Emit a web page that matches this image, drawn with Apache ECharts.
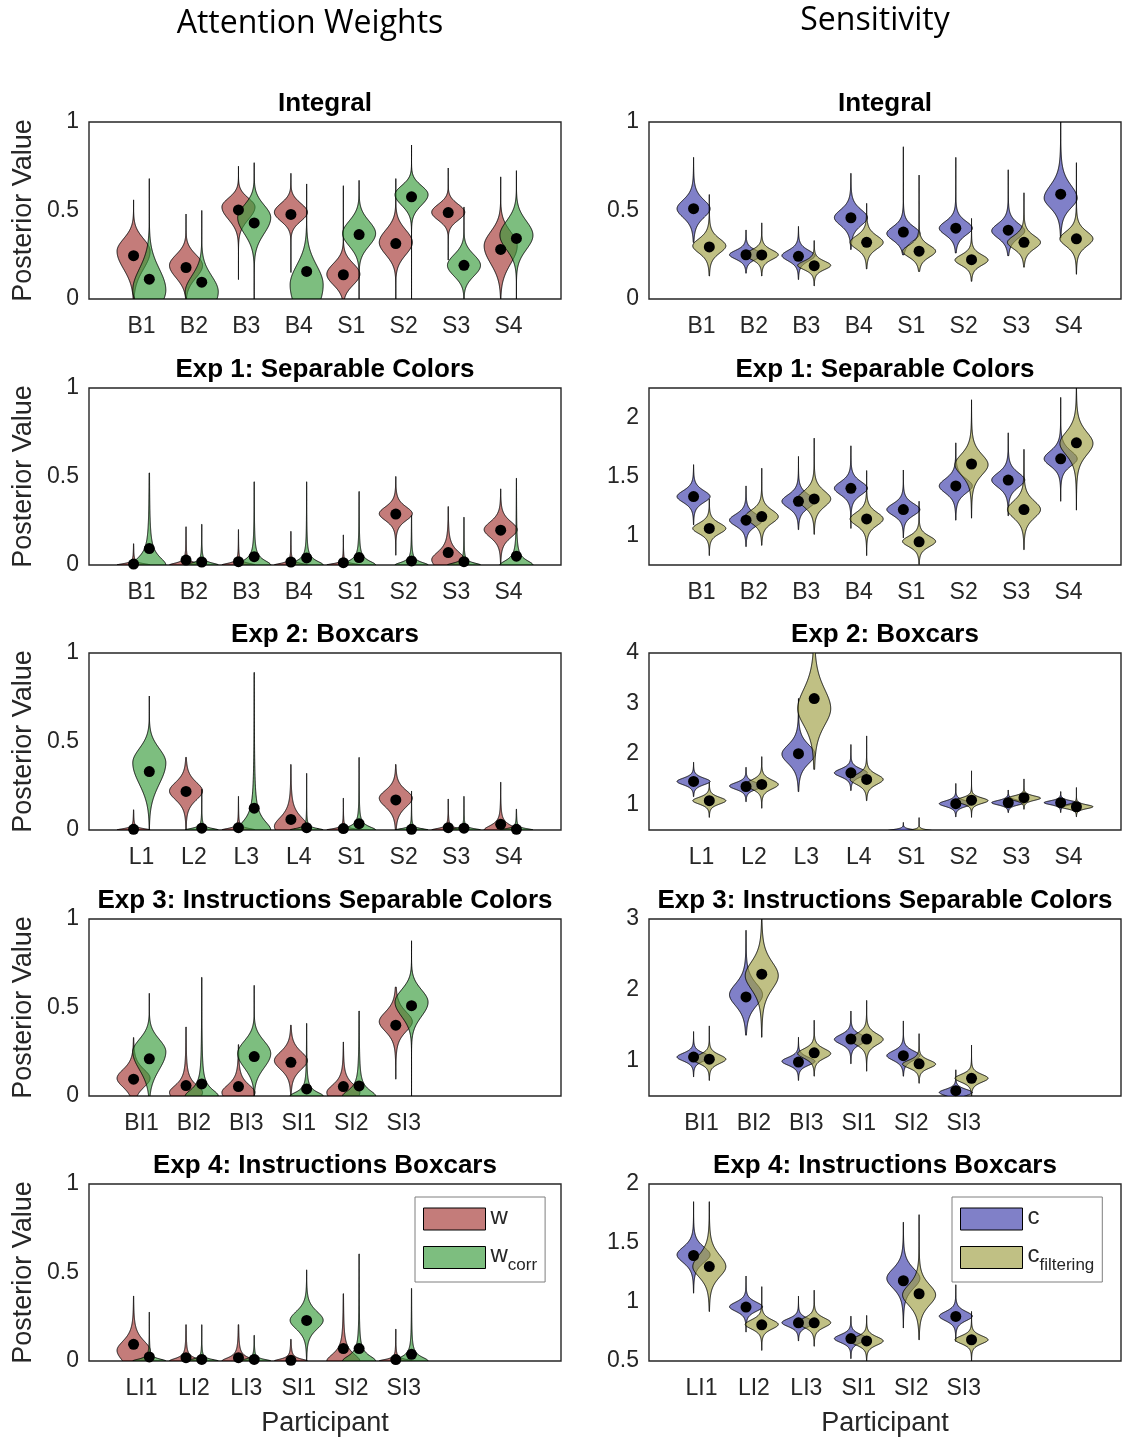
<!DOCTYPE html>
<html><head><meta charset="utf-8">
<script src="https://cdn.jsdelivr.net/npm/echarts@6/dist/echarts.min.js"></script>
<style>html,body{margin:0;padding:0;background:#fff}#c{width:1132px;height:1438px}</style>
</head><body><div id="c"></div>
<script>
// ---------- categories ----------
const catsInt  = ['B1','B2','B3','B4','S1','S2','S3','S4'];
const catsExp1 = ['B1','B2','B3','B4','S1','S2','S3','S4'];
const catsExp2 = ['L1','L2','L3','L4','S1','S2','S3','S4'];
const catsExp3 = ['BI1','BI2','BI3','SI1','SI2','SI3'];
const catsExp4 = ['LI1','LI2','LI3','SI1','SI2','SI3'];

// ---------- tick labels ----------
const ticksW    = [0, 0.5, 1];
const ticksInt  = [0, 0.5, 1];
const ticksExp1 = [1, 1.5, 2];
const ticksExp2 = [1, 2, 3, 4];
const ticksExp3 = [1, 2, 3];
const ticksExp4 = [0.5, 1, 1.5, 2];

// ---------- violin summaries: [dot, mode, sdLow, sdHigh, min, max, tailShape] ----------
const intW = [
 [0.245,0.27,0.10,0.07,0,0.56,0],[0.178,0.19,0.07,0.06,0,0.48,0],[0.503,0.52,0.07,0.05,0.11,0.75,0],[0.478,0.49,0.05,0.05,0.15,0.71,0],
 [0.137,0.14,0.06,0.06,0,0.64,0],[0.313,0.32,0.07,0.07,0,0.68,0],[0.488,0.49,0.045,0.045,0.22,0.74,0],[0.28,0.30,0.10,0.08,0,0.69,0]];
const intWcorr = [
 [0.112,0.05,0.10,0.12,0,0.68,0],[0.095,0.04,0.10,0.09,0,0.50,0],[0.43,0.46,0.09,0.07,0,0.77,0],[0.156,0.08,0.15,0.11,0,0.65,0],
 [0.364,0.37,0.07,0.07,0,0.67,0],[0.577,0.59,0.06,0.05,0,0.87,0],[0.19,0.19,0.06,0.06,0,0.52,0],[0.342,0.36,0.08,0.08,0,0.725,0]];
const intC = [
 [0.51,0.51,0.054,0.054,0.32,0.80,6],[0.25,0.25,0.027,0.027,0.146,0.39,6],[0.241,0.245,0.032,0.032,0.11,0.41,6],[0.459,0.46,0.048,0.048,0.28,0.71,6],
 [0.378,0.37,0.042,0.042,0.25,0.86,6],[0.40,0.40,0.042,0.042,0.26,0.80,6],[0.389,0.385,0.044,0.044,0.245,0.73,6],[0.592,0.57,0.06,0.078,0.345,1.05,6]];
const intCfilt = [
 [0.294,0.30,0.044,0.044,0.13,0.59,6],[0.249,0.25,0.029,0.029,0.13,0.43,6],[0.188,0.19,0.026,0.026,0.074,0.33,6],[0.32,0.32,0.04,0.04,0.17,0.54,6],
 [0.27,0.27,0.036,0.036,0.156,0.70,6],[0.222,0.22,0.032,0.032,0.10,0.455,6],[0.32,0.32,0.04,0.04,0.18,0.60,6],[0.34,0.34,0.045,0.045,0.14,0.77,6]];

const e1W = [
 [0.005,0,0.01,0.01,0,0.12,1],[0.028,0,0.015,0.015,0,0.216,1],[0.019,0,0.013,0.013,0,0.20,1],[0.017,0,0.012,0.012,0,0.19,1],
 [0.013,0,0.01,0.01,0,0.17,1],[0.288,0.29,0.042,0.042,0.055,0.50,6],[0.07,0.03,0.06,0.05,0,0.33,3],[0.197,0.20,0.048,0.048,0,0.43,6]];
const e1Wcorr = [
 [0.093,0,0.06,0.06,0,0.52,1],[0.017,0,0.015,0.015,0,0.23,1],[0.047,0,0.035,0.035,0,0.47,1],[0.04,0,0.03,0.03,0,0.47,1],
 [0.042,0,0.03,0.03,0,0.415,1],[0.023,0,0.02,0.02,0,0.28,1],[0.019,0,0.015,0.015,0,0.27,1],[0.05,0,0.035,0.035,0,0.49,1]];
const e1C = [
 [1.33,1.33,0.054,0.054,1.09,1.60,6],[1.13,1.13,0.054,0.054,0.906,1.42,6],[1.29,1.29,0.06,0.06,1.05,1.67,6],[1.40,1.40,0.06,0.06,1.06,1.76,6],
 [1.22,1.22,0.054,0.054,0.98,1.555,6],[1.42,1.42,0.066,0.066,1.13,1.785,6],[1.47,1.47,0.066,0.066,1.167,1.87,6],[1.65,1.65,0.066,0.072,1.29,2.17,6]];
const e1Cfilt = [
 [1.06,1.06,0.048,0.048,0.83,1.31,6],[1.16,1.16,0.06,0.06,0.917,1.57,6],[1.31,1.31,0.072,0.072,1.01,1.825,6],[1.14,1.14,0.06,0.06,0.83,1.55,6],
 [0.946,0.95,0.048,0.048,0.755,1.29,6],[1.606,1.60,0.095,0.095,1.147,2.15,6],[1.22,1.22,0.078,0.078,0.88,1.73,6],[1.785,1.78,0.105,0.105,1.215,2.3,6]];

const e2W = [
 [0.004,0,0.01,0.01,0,0.114,1],[0.218,0.22,0.054,0.054,0,0.41,6],[0.013,0,0.012,0.012,0,0.19,1],[0.06,0.02,0.06,0.06,0,0.37,3],
 [0.008,0,0.01,0.01,0,0.18,1],[0.17,0.18,0.054,0.048,0,0.37,6],[0.013,0,0.012,0.012,0,0.175,1],[0.032,0,0.03,0.03,0,0.27,2]];
const e2Wcorr = [
 [0.33,0.38,0.12,0.08,0,0.757,0],[0.01,0,0.012,0.012,0,0.23,1],[0.123,0,0.07,0.07,0,0.89,1],[0.013,0,0.012,0.012,0,0.32,1],
 [0.036,0,0.025,0.025,0,0.41,1],[0.004,0,0.01,0.01,0,0.22,1],[0.01,0,0.01,0.01,0,0.19,1],[0.004,0,0.01,0.01,0,0.118,1]];
const e2C = [
 [1.46,1.46,0.072,0.072,1.16,1.84,6],[1.36,1.37,0.072,0.072,1.06,1.74,6],[2.01,2.0,0.2,0.2,1.26,3.1,6],[1.63,1.63,0.084,0.084,1.28,2.19,6],
 [0.3,0.48,0.03,0.03,0.3,0.65,6],[1.02,1.02,0.06,0.06,0.76,1.42,6],[1.04,1.04,0.048,0.048,0.845,1.29,6],[1.04,1.04,0.042,0.042,0.845,1.26,6]];
const e2Cfilt = [
 [1.08,1.08,0.072,0.072,0.75,1.44,6],[1.40,1.40,0.095,0.095,0.93,1.95,6],[3.1,2.9,0.36,0.42,1.7,4.2,6],[1.50,1.50,0.105,0.105,1.08,2.36,6],
 [0.3,0.47,0.03,0.03,0.3,0.745,6],[1.09,1.08,0.06,0.06,0.75,1.67,6],[1.14,1.13,0.048,0.048,0.91,1.51,6],[0.96,0.96,0.042,0.042,0.76,1.34,6]];

const e3W = [
 [0.095,0.10,0.055,0.055,0,0.33,6],[0.059,0.02,0.06,0.05,0,0.39,2],[0.053,0.02,0.06,0.05,0,0.29,3],
 [0.19,0.20,0.054,0.054,0,0.40,6],[0.053,0.02,0.06,0.05,0,0.305,3],[0.40,0.42,0.06,0.06,0.095,0.615,6]];
const e3Wcorr = [
 [0.21,0.25,0.10,0.07,0,0.58,0],[0.068,0,0.05,0.05,0,0.67,1],[0.223,0.24,0.08,0.07,0,0.625,0],
 [0.04,0,0.03,0.03,0,0.41,1],[0.057,0,0.045,0.045,0,0.48,1],[0.51,0.53,0.08,0.07,0,0.877,0]];
const e3C = [
 [1.05,1.05,0.06,0.06,0.77,1.41,6],[1.90,1.93,0.17,0.17,1.36,2.84,6],[0.98,0.99,0.06,0.06,0.72,1.33,6],
 [1.305,1.30,0.072,0.072,0.955,1.70,6],[1.07,1.07,0.072,0.072,0.78,1.56,6],[0.575,0.55,0.048,0.048,0.3,0.87,6]];
const e3Cfilt = [
 [1.02,1.02,0.066,0.066,0.72,1.49,6],[2.22,2.2,0.21,0.21,1.33,3.1,6],[1.11,1.10,0.072,0.072,0.78,1.57,6],
 [1.305,1.30,0.084,0.084,0.85,1.85,6],[0.955,0.95,0.06,0.06,0.68,1.38,6],[0.75,0.75,0.06,0.06,0.4,1.22,6]];

const e4W = [
 [0.094,0.06,0.07,0.06,0,0.367,4],[0.019,0,0.02,0.02,0,0.205,1],[0.019,0,0.025,0.025,0,0.205,1],
 [0.004,0,0.015,0.015,0,0.122,1],[0.07,0,0.05,0.05,0,0.38,1.5],[0.008,0,0.012,0.012,0,0.18,1]];
const e4Wcorr = [
 [0.023,0,0.015,0.015,0,0.276,1],[0.009,0,0.012,0.012,0,0.205,1],[0.009,0,0.012,0.012,0,0.145,1],
 [0.229,0.23,0.054,0.054,0,0.515,6],[0.07,0,0.04,0.04,0,0.605,1],[0.038,0,0.03,0.03,0,0.41,1]];
const e4C = [
 [1.394,1.40,0.072,0.072,1.075,1.85,6],[0.957,0.96,0.042,0.042,0.745,1.22,6],[0.824,0.825,0.036,0.036,0.67,1.05,6],
 [0.69,0.69,0.036,0.036,0.52,0.88,6],[1.18,1.20,0.09,0.09,0.78,1.676,6],[0.878,0.88,0.042,0.042,0.666,1.146,6]];
const e4Cfilt = [
 [1.30,1.30,0.095,0.105,0.92,1.85,6],[0.807,0.81,0.042,0.042,0.59,1.13,6],[0.824,0.825,0.042,0.042,0.625,1.10,6],
 [0.67,0.67,0.038,0.038,0.5,0.886,6],[1.07,1.06,0.095,0.095,0.68,1.74,6],[0.68,0.68,0.036,0.036,0.5,0.92,6]];

// ---------- styling ----------
const FONT = 'Liberation Sans, Arial, sans-serif';
const TXT = '#262626';
const COL = { w:'rgba(165,54,51,0.65)', wcorr:'rgba(55,155,58,0.65)', c:'rgba(60,60,171,0.65)', cfilt:'rgba(158,158,66,0.65)' };
const HALFW = 0.315, OFFS = [-0.15, 0.15];
const GRID_L = [89, 649], GRID_W = 472, GRID_H = 177;
const TOPS = [122, 388, 653, 919, 1184];

const panels = [
 {row:0,col:0,title:'Integral',cats:catsInt,a:intW,b:intWcorr,min:0,max:1,step:0.5,ticks:ticksW},
 {row:0,col:1,title:'Integral',cats:catsInt,a:intC,b:intCfilt,min:0,max:1,step:0.5,ticks:ticksInt},
 {row:1,col:0,title:'Exp 1: Separable Colors',cats:catsExp1,a:e1W,b:e1Wcorr,min:0,max:1,step:0.5,ticks:ticksW},
 {row:1,col:1,title:'Exp 1: Separable Colors',cats:catsExp1,a:e1C,b:e1Cfilt,min:0.75,max:2.25,step:0.25,ticks:ticksExp1},
 {row:2,col:0,title:'Exp 2: Boxcars',cats:catsExp2,a:e2W,b:e2Wcorr,min:0,max:1,step:0.5,ticks:ticksW},
 {row:2,col:1,title:'Exp 2: Boxcars',cats:catsExp2,a:e2C,b:e2Cfilt,min:0.5,max:4,step:0.5,ticks:ticksExp2},
 {row:3,col:0,title:'Exp 3: Instructions Separable Colors',cats:catsExp3,a:e3W,b:e3Wcorr,min:0,max:1,step:0.5,ticks:ticksW},
 {row:3,col:1,title:'Exp 3: Instructions Separable Colors',cats:catsExp3,a:e3C,b:e3Cfilt,min:0.5,max:3,step:0.5,ticks:ticksExp3},
 {row:4,col:0,title:'Exp 4: Instructions Boxcars',cats:catsExp4,a:e4W,b:e4Wcorr,min:0,max:1,step:0.5,ticks:ticksW},
 {row:4,col:1,title:'Exp 4: Instructions Boxcars',cats:catsExp4,a:e4C,b:e4Cfilt,min:0.5,max:2,step:0.5,ticks:ticksExp4}
];

function makeRender(off, fill) {
  return function (params, api) {
    const x = api.value(0) + off;
    const mode = api.value(2), sl = api.value(3), sh = api.value(4);
    const lo = api.value(5), hi = api.value(6), nu = api.value(7);
    const N = 200, right = [], left = [];
    for (let k = 0; k <= N; k++) {
      const y = lo + (hi - lo) * k / N;
      const z = (y - mode) / (y < mode ? sl : sh);
      const f = nu > 0 ? Math.pow(1 + z * z / nu, -(nu + 1) / 2) : Math.exp(-z * z / 2);
      const hw = HALFW * f;
      right.push(api.coord([x + hw, y]));
      left.unshift(api.coord([x - hw, y]));
    }
    return { type: 'polygon', shape: { points: right.concat(left) },
      style: { fill: fill, stroke: '#000', lineWidth: 0.9 } };
  };
}

const grid = [], xAxis = [], yAxis = [], series = [], title = [];
title.push({text:'Attention Weights', left:310, top:8, textAlign:'center', padding:0,
  textStyle:{fontFamily:'Open Sans, Lato, sans-serif', fontSize:32, fontWeight:'normal', color:'#000'}});
title.push({text:'Sensitivity', left:875, top:5, textAlign:'center', padding:0,
  textStyle:{fontFamily:'Open Sans, Lato, sans-serif', fontSize:32, fontWeight:'normal', color:'#000'}});

panels.forEach((p, gi) => {
  const left = GRID_L[p.col], top = TOPS[p.row];
  grid.push({left:left, top:top, width:GRID_W, height:GRID_H, show:true,
    borderColor:'#262626', borderWidth:1.4, backgroundColor:'rgba(0,0,0,0)'});
  title.push({text:p.title, left:left + GRID_W/2, top:top - 31, textAlign:'center', padding:0,
    textStyle:{fontFamily:FONT, fontSize:26, fontWeight:'bold', color:'#000'}});
  const cats = p.cats;
  xAxis.push({type:'value', gridIndex:gi, min:0, max:9, interval:1,
    axisLine:{show:false}, axisTick:{show:false}, splitLine:{show:false},
    axisLabel:{margin:16, fontSize:23, fontFamily:FONT, color:TXT,
      formatter: v => cats[Math.round(v) - 1] || ''},
    name: p.row === 4 ? 'Participant' : '', nameLocation:'middle', nameGap:49,
    nameTextStyle:{fontSize:27, fontFamily:FONT, color:TXT}});
  const ticks = p.ticks;
  yAxis.push({type:'value', gridIndex:gi, min:p.min, max:p.max, interval:p.step,
    axisLine:{show:false}, axisTick:{show:false}, splitLine:{show:false},
    axisLabel:{margin:10, fontSize:23, fontFamily:FONT, color:TXT,
      showMinLabel:true, showMaxLabel:true,
      formatter: v => ticks.some(t => Math.abs(t - v) < 1e-6) ? String(+v.toFixed(2)) : ''},
    name: p.col === 0 ? 'Posterior Value' : '', nameLocation:'middle', nameGap:52,
    nameTextStyle:{fontSize:27, fontFamily:FONT, color:TXT}});
  const names = p.col === 0 ? ['w','wcorr'] : ['c','cfilt'];
  [p.a, p.b].forEach((arr, k) => {
    series.push({type:'custom', name:names[k], xAxisIndex:gi, yAxisIndex:gi, clip:true, z:2,
      itemStyle:{color:COL[names[k]]}, renderItem: makeRender(OFFS[k], COL[names[k]]),
      encode:{x:0, y:1}, data: arr.map((t, i) => [i + 1].concat(t))});
  });
  const dots = [];
  [p.a, p.b].forEach((arr, k) => arr.forEach((t, i) => dots.push([i + 1 + OFFS[k], t[0]])));
  series.push({type:'scatter', name:'dot', xAxisIndex:gi, yAxisIndex:gi, clip:true, z:5, silent:true,
    symbol:'circle', symbolSize:11, itemStyle:{color:'#000', opacity:1}, data:dots});
});

function legendCfg(left, names) {
  return {left:left, top:1197, orient:'vertical', icon:'rect', itemWidth:62, itemHeight:22, itemGap:13,
    padding:[8,8,8,8], borderColor:'#7f7f7f', borderWidth:1, backgroundColor:'#fff', selectedMode:false,
    data: names.map(n => ({name:n, itemStyle:{color:COL[n], borderColor:'#000', borderWidth:1}})),
    formatter: function (n) {
      if (n === 'wcorr') return '{m|w}{s|corr}';
      if (n === 'cfilt') return '{m|c}{s|filtering}';
      return '{m|' + n + '}';
    },
    textStyle:{fontFamily:FONT, color:TXT, rich:{
      m:{fontSize:24, fontFamily:FONT, color:TXT, padding:[0,0,4,0]},
      s:{fontSize:17, fontFamily:FONT, color:TXT, padding:[16,0,0,0]}}}};
}

const chart = echarts.init(document.getElementById('c'), null, {renderer:'canvas', width:1132, height:1438});
chart.setOption({
  animation:false, backgroundColor:'#fff',
  title: title, grid: grid, xAxis: xAxis, yAxis: yAxis, series: series,
  legend: [legendCfg(415, ['w','wcorr']), legendCfg(952, ['c','cfilt'])]
});
</script></body></html>
